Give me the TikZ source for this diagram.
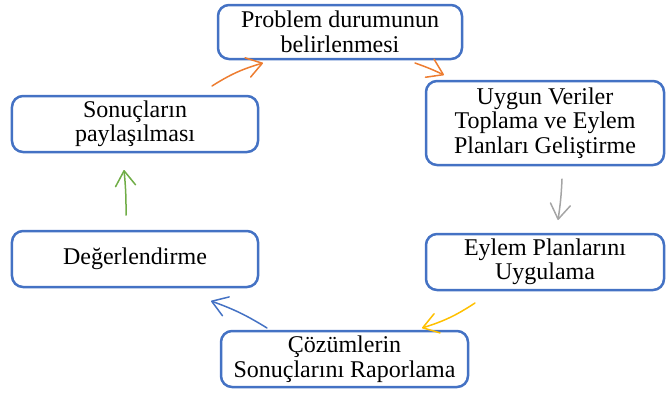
\documentclass[tikz,border=0pt]{standalone}
\usepackage{fontspec}
\setmainfont{Liberation Serif}
\usetikzlibrary{arrows.meta}
\definecolor{boxblue}{HTML}{4472C4}
\definecolor{aorange}{HTML}{ED7D31}
\definecolor{agray}{HTML}{A5A5A5}
\definecolor{agold}{HTML}{FFC000}
\definecolor{ablue}{HTML}{4472C4}
\definecolor{agreen}{HTML}{70AD47}
\tikzset{
  stepbox/.style={draw=boxblue, line width=2.5bp, rounded corners=11bp, fill=white,
    align=center, inner sep=0pt, font=\fontsize{24bp}{24.5bp}\selectfont},
  cyc/.style={line width=1.5bp, line cap=round, line join=round,
    -{Straight Barb[length=15bp,width=20bp,round]}},
}
\begin{document}
\begin{tikzpicture}[x=1bp,y=-1bp]
\useasboundingbox (0,0) rectangle (666,394);
\node[stepbox, minimum width=244bp, minimum height=54bp] (p) at (340,32) {Problem durumunun\\belirlenmesi};
\node[stepbox, minimum width=238bp, minimum height=84bp] (u) at (545,123) {Uygun Veriler\\Toplama ve Eylem\\Planları Geliştirme};
\node[stepbox, minimum width=238bp, minimum height=56bp] (e) at (545,262) {Eylem Planlarını\\Uygulama};
\node[stepbox, minimum width=247bp, minimum height=56bp] (c) at (344.5,359) {Çözümlerin\\Sonuçlarını Raporlama};
\node[stepbox, minimum width=246bp, minimum height=56bp] (d) at (135,259) {Değerlendirme};
\node[stepbox, minimum width=246bp, minimum height=56bp] (s) at (135,124) {Sonuçların\\paylaşılması};
\coordinate (a1s) at (212,86);  \coordinate (a1e) at (263,63);
\coordinate (a2s) at (415,63);  \coordinate (a2e) at (444,75);
\coordinate (a3s) at (562,179); \coordinate (a3e) at (558,220);
\coordinate (a4s) at (475,303); \coordinate (a4e) at (422,328);
\coordinate (a5s) at (267,328); \coordinate (a5e) at (211,301);
\coordinate (a6s) at (126,215); \coordinate (a6e) at (124,170);
\draw[cyc, aorange] (a1s) to[bend left=8] (a1e);
\draw[cyc, aorange] (a2s) to[bend left=3] (a2e);
\draw[cyc, agray] (a3s) to[bend left=3] (a3e);
\draw[cyc, agold] (a4s) to[bend left=8] (a4e);
\draw[cyc, ablue] (a5s) to[bend right=6] (a5e);
\draw[cyc, agreen] (a6s) to[bend right=3] (a6e);
\end{tikzpicture}
\end{document}
